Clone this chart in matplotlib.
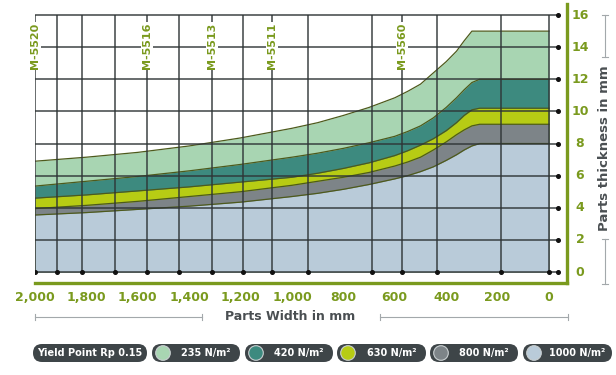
import matplotlib.pyplot as plt
from matplotlib.patches import FancyBboxPatch, Circle
import matplotlib.transforms as mtransforms

# parts width in mm and max parts thickness in mm per yield strength
widths = [2000, 1800, 1600, 1400, 1200, 1000, 900, 800, 700, 600, 550, 500, 450, 400,
          360, 330, 300, 270, 0]
t_235 = [6.9, 7.15, 7.45, 7.85, 8.35, 8.95, 9.3, 9.75, 10.25, 10.85, 11.25, 11.7, 12.4, 13.1,
         13.75, 14.4, 15.0, 15.0, 15.0]
t_420 = [5.35, 5.65, 5.95, 6.3, 6.7, 7.15, 7.4, 7.7, 8.05, 8.45, 8.75, 9.1, 9.6, 10.25,
         10.85, 11.35, 11.8, 12.0, 12.0]
t_630 = [4.6, 4.8, 5.05, 5.3, 5.6, 5.9, 6.15, 6.45, 6.8, 7.25, 7.55, 7.9, 8.3, 8.8,
         9.3, 9.75, 10.1, 10.2, 10.2]
t_800 = [3.95, 4.15, 4.4, 4.7, 5.0, 5.4, 5.65, 5.9, 6.2, 6.6, 6.85, 7.15, 7.6, 8.1,
         8.55, 8.85, 9.1, 9.2, 9.2]
t_1000 = [3.55, 3.7, 3.9, 4.1, 4.35, 4.7, 4.9, 5.15, 5.45, 5.8, 6.0, 6.25, 6.55, 6.95,
          7.3, 7.6, 7.85, 8.0, 8.0]

grades = ['235 N/m²', '420 N/m²', '630 N/m²', '800 N/m²', '1000 N/m²']
colors = ['#a8d5b2', '#3d8a7f', '#b7cc14', '#7d8488', '#b9cbd9']

# machine models and the widths where they sit
models = ['M-5520', 'M-5516', 'M-5513', 'M-5511', 'M-5560']
model_widths = [2000, 1565, 1312, 1079, 571]

grid_widths = [2000, 1916, 1816, 1689, 1565, 1440, 1312, 1190, 1079, 937, 690, 571, 437, 187, 0]
thick_ticks = [0, 2, 4, 6, 8, 10, 12, 14, 16]
width_ticks = [2000, 1800, 1600, 1400, 1200, 1000, 800, 600, 400, 200, 0]

olive = '#7a9a1e'
dark = '#4a4f52'
pill = '#3e4548'

fig = plt.figure(figsize=(6.16, 3.75), dpi=100)
ax = fig.add_axes([35 / 616, 92 / 375, 532 / 616, 279 / 375])
ax.set_xlim(2000, -70)
ax.set_ylim(-0.685, 16.69)

for vals, c in zip([t_235, t_420, t_630, t_800, t_1000], colors):
    ax.fill_between(widths, 0, vals, color=c, lw=0, zorder=1)
    ax.plot(widths, vals, color='#4d5a1c', lw=0.9, zorder=2)

ax.hlines(thick_ticks, 2000, -35, color='#2e3436', lw=1.2, alpha=0.85, zorder=3)
ax.vlines(grid_widths, 0, 16, color='#2e3436', lw=1.2, alpha=0.85, zorder=3)
ax.plot([-35] * len(thick_ticks), thick_ticks, 'o', ms=2.6, color='#111111', zorder=4, clip_on=False)
ax.plot(grid_widths, [0] * len(grid_widths), 'o', ms=2.6, color='#111111', zorder=4)

for name, w in zip(models, model_widths):
    ax.text(w, 14.07, name, rotation=90, ha='center', va='center', color=olive,
            fontsize=8, fontweight='bold', zorder=5,
            bbox=dict(fc='white', ec='none', pad=0.8))

for s in ['left', 'top']:
    ax.spines[s].set_visible(False)
for s in ['right', 'bottom']:
    ax.spines[s].set_color(olive)
    ax.spines[s].set_linewidth(2.4)
ax.set_xticks([])
ax.set_yticks([])
ax.patch.set_alpha(0)

# tick labels
trans = mtransforms.blended_transform_factory(ax.transAxes, ax.transData)
for t in thick_ticks:
    ax.text(1.0245, t, str(t), transform=trans, ha='center', va='center',
            color=olive, fontsize=9, fontweight='bold', clip_on=False)
for w in width_ticks:
    ax.text(w, -1.56, f'{w:,}', ha='center', va='center', color=olive,
            fontsize=9, fontweight='bold', clip_on=False)

# overlay in pixel units for titles and legend
ov = fig.add_axes([0, 0, 1, 1])
ov.set_xlim(0, 616)
ov.set_ylim(375, 0)
ov.axis('off')

ov.text(605, 148, 'Parts thickness in mm', rotation=90, ha='center', va='center',
        color=dark, fontsize=9.5, fontweight='bold')
ov.text(290, 317, 'Parts Width in mm', ha='center', va='center',
        color=dark, fontsize=9, fontweight='bold')

lc = '#a3a8ab'
for y0, y1 in [(15, 57), (239, 284)]:
    ov.plot([605, 605], [y0, y1], color=lc, lw=0.8)
    ov.plot([602, 608], [y0, y0], color=lc, lw=0.8)
    ov.plot([602, 608], [y1, y1], color=lc, lw=0.8)
for x0, x1 in [(35, 202), (380, 568)]:
    ov.plot([x0, x1], [317, 317], color=lc, lw=0.8)
    ov.plot([x0, x0], [314, 320], color=lc, lw=0.8)
    ov.plot([x1, x1], [314, 320], color=lc, lw=0.8)

# legend pills
yc, h = 353, 18
ov.add_patch(FancyBboxPatch((33, yc - h / 2), 114, h, boxstyle='round,pad=0,rounding_size=9',
                            fc=pill, ec='none'))
ov.text(90, yc, 'Yield Point Rp 0.15', ha='center', va='center', color='white',
        fontsize=7, fontweight='bold')
pill_x = [(152, 240), (245, 333), (337, 426), (430, 518), (523, 612)]
for (x0, x1), g, c in zip(pill_x, grades, colors):
    ov.add_patch(FancyBboxPatch((x0, yc - h / 2), x1 - x0, h,
                                boxstyle='round,pad=0,rounding_size=9', fc=pill, ec='none'))
    ov.add_patch(Circle((x0 + 11, yc), 7.3, fc=c, ec='#c9cfd1', lw=0.8))
    ov.text((x0 + 20 + x1) / 2, yc, g, ha='center', va='center', color='white',
            fontsize=7, fontweight='bold')

fig.savefig('out.png', dpi=100)
